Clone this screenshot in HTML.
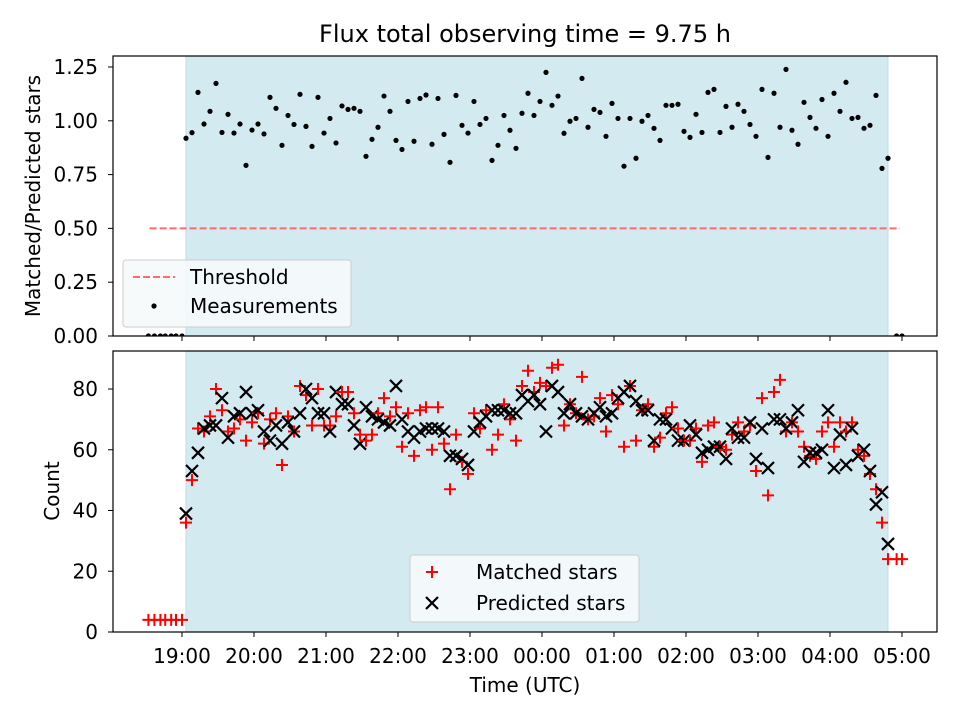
<!DOCTYPE html>
<html><head><meta charset="utf-8">
<style>
body{margin:0;background:#fff;}
svg{display:block;font-family:"DejaVu Sans","Liberation Sans",sans-serif;}
</style></head>
<body>
<svg id="chart" width="960" height="720" viewBox="0 0 960 720">
<rect width="960" height="720" fill="#fff"/>
<text x="525" y="42" text-anchor="middle" font-size="24" fill="#000">Flux total observing time = 9.75 h</text>
<g id="top"></g>
<g id="bot"></g>
<text transform="translate(40,196) rotate(-90)" text-anchor="middle" font-size="20">Matched/Predicted stars</text>
<text transform="translate(59,491) rotate(-90)" text-anchor="middle" font-size="20">Count</text>
<text x="525" y="692" text-anchor="middle" font-size="20">Time (UTC)</text>
</svg>
<script>
// minutes since 19:00
const shadeStart = 3.3, shadeEnd = 588.3;
const ratioValues = [0.919,0.945,1.132,0.985,1.044,1.174,0.946,1.03,0.943,0.985,0.793,0.957,0.985,0.939,1.109,1.058,0.886,1.025,0.983,1.123,0.974,0.881,1.109,0.943,1.011,0.897,1.069,1.053,1.058,1.044,0.835,0.914,0.97,1.115,1.044,0.909,0.867,1.09,0.905,1.104,1.12,0.891,1.104,0.937,0.807,1.118,0.979,0.943,1.09,0.983,1.011,0.816,0.886,1.025,0.956,0.872,1.035,1.128,1.025,1.09,
1.225,1.072,1.115,0.942,0.998,1.011,1.197,0.97,1.053,1.039,0.928,1.081,1.011,0.789,1.011,0.826,0.998,1.025,0.965,0.909,1.072,1.072,1.077,0.951,0.923,1.03,0.946,1.132,1.146,0.946,1.067,0.97,1.077,1.044,0.983,0.928,1.146,0.83,1.128,0.97,1.239,0.956,0.891,1.086,1.016,0.965,1.099,0.928,1.128,1.044,1.179,1.011,1.016,0.965,0.979,1.118,0.779,0.826];
const matchedValues = [36,50,67,66,71,80,73,66,67,70,63,69,72,62,70,72,55,71,66,81,78,68,80,68,68,71,79,79,72,
65,63,65,72,77,71,74,61,72,58,73,74,60,74,62,47,65,56,52,72,67,73,60,65,75,70,63,81,86,
79,82,81,87,88,68,75,72,84,70,71,77,66,78,75,61,81,63,73,75,61,64,72,74,67,63,63,67,56,68,
69,61,60,65,69,66,68,53,77,45,79,83,66,69,66,61,58,57,66,69,61,69,66,69,60,58,52,47,36,24];
const predictedValues = [39,53,59,67,68,68,77,64,71,72,79,72,73,66,63,68,62,69,66,72,80,77,72,72,66,79,75,75,68,
62,74,71,70,69,68,81,70,66,64,66,67,67,67,66,58,58,57,55,66,69,71,73,73,73,72,72,78,76,
78,75,66,81,79,72,75,72,71,70,72,74,71,72,77,79,81,76,73,73,63,70,70,67,63,63,68,65,59,60,
61,61,57,67,64,64,69,57,67,54,70,70,67,69,73,56,59,59,60,73,54,65,55,67,58,60,53,42,46,29];
const preTimes = [-28,-23,-18,-14,-9,-5,0];
const preRatio = [0,0,0,0,0,0,0];
const preMatched = [4,4,4,4,4,4,4];
const postTimes = [595.5,600];
const postRatio = [0,0];
const postMatched = [24,24];
const threshold = 0.5;
const xTickLabels = ["19:00","20:00","21:00","22:00","23:00","00:00","01:00","02:00","03:00","04:00","05:00"];
const ratioTicks = [0,0.25,0.5,0.75,1.0,1.25];
const countTicks = [0,20,40,60,80];

const NS="http://www.w3.org/2000/svg";
const L=113,R=937;
const xs = m => 182 + m*1.2;
const yTop = v => 336 - v*215.2;
const yBot = v => 632 - v*3.0375;
function mk(parent,tag,attrs){const e=document.createElementNS(NS,tag);for(const k in attrs)e.setAttribute(k,attrs[k]);parent.appendChild(e);return e;}
const timeOf = k => 3.33 + 5*k;

function panel(g,T,B,yScale,ticks,fmt,showX,prefix){
  const sh=mk(g,'rect',{x:xs(shadeStart),y:T,width:xs(shadeEnd)-xs(shadeStart),height:B-T,fill:'#d4eaf1',stroke:'#bcdde8','stroke-width':1});
  
  
  ticks.forEach(t=>{
    const y=yScale(t);
    const tl=mk(g,'line',{x1:L-5,x2:L,y1:y,y2:y,stroke:'#000','stroke-width':1});
    
    
    const tx=mk(g,'text',{x:L-15,y:y+7,'text-anchor':'end','font-size':20});
    tx.textContent=fmt(t);
    
    
  });
  xTickLabels.forEach((lab,i)=>{
    const x=xs(i*60);
    const tl=mk(g,'line',{x1:x,x2:x,y1:B,y2:B+5,stroke:'#000','stroke-width':1});
    
    
    if(showX){
      const tx=mk(g,'text',{x:x,y:B+31,'text-anchor':'middle','font-size':20});
      tx.textContent=lab;
      
      
    }
  });
}
function drawFrame(g,T,B,prefix){
  const f=mk(g,'rect',{x:L,y:T,width:R-L,height:B-T,fill:'none',stroke:'#000','stroke-width':1.2});
  
  
}
function clipFor(id,T,B){const c=mk(document.getElementById('chart'),'clipPath',{id:id});mk(c,'rect',{x:L,y:T,width:R-L,height:B-T});}

// TOP
const topG=document.getElementById('top');
clipFor('ct',56,336);
panel(topG,56,336,yTop,ratioTicks,t=>t.toFixed(2),false,'ratio');
const tg=mk(topG,'g',{'clip-path':'url(#ct)'});
const th=mk(tg,'line',{x1:xs(-27),x2:xs(598.3),y1:yTop(threshold),y2:yTop(threshold),stroke:'#ff6b6b','stroke-width':2,'stroke-dasharray':'7,3'});


function dot(t,v){
  const c=mk(tg,'circle',{cx:xs(t),cy:yTop(v),r:2.6,fill:'#000'});
  
  
}
preTimes.forEach((t,i)=>dot(t,preRatio[i]));
ratioValues.forEach((v,k)=>dot(timeOf(k),v));
postTimes.forEach((t,i)=>dot(t,postRatio[i]));
drawFrame(topG,56,336,'ratio');
const lg=mk(topG,'g',{});


mk(lg,'rect',{x:123,y:260,width:228,height:67,rx:3,fill:'#f6f9fb','fill-opacity':0.9,stroke:'#ccc'});
mk(lg,'line',{x1:133,x2:175,y1:277,y2:277,stroke:'#ff6b6b','stroke-width':2,'stroke-dasharray':'7,3'});
const lt1=mk(lg,'text',{x:190,y:284,'font-size':20});lt1.textContent='Threshold';


mk(lg,'circle',{cx:154,cy:306,r:2.6,fill:'#000'});
const lt2=mk(lg,'text',{x:190,y:313,'font-size':20});lt2.textContent='Measurements';



// BOTTOM
const botG=document.getElementById('bot');
clipFor('cb',351,632);
panel(botG,351,632,yBot,countTicks,t=>String(t),true,'count');
const bgG=mk(botG,'g',{'clip-path':'url(#cb)'});
function plus(g,x,y){return mk(g,'path',{d:`M${x-6},${y}H${x+6}M${x},${y-6}V${y+6}`,stroke:'#ff0000','stroke-width':2,fill:'none'});}
function cross(g,x,y){return mk(g,'path',{d:`M${x-6},${y-6}L${x+6},${y+6}M${x-6},${y+6}L${x+6},${y-6}`,stroke:'#000','stroke-width':2.2,fill:'none'});}
function mp(t,v){const p=plus(bgG,xs(t),yBot(v));
  
  }
preTimes.forEach((t,i)=>mp(t,preMatched[i]));
matchedValues.forEach((v,k)=>{
  mp(timeOf(k),v);
  const c=cross(bgG,xs(timeOf(k)),yBot(predictedValues[k]));
  
  
});
postTimes.forEach((t,i)=>mp(t,postMatched[i]));
drawFrame(botG,351,632,'count');
const lb=mk(botG,'g',{});


mk(lb,'rect',{x:410,y:555,width:229,height:67,rx:3,fill:'#f6f9fb','fill-opacity':0.9,stroke:'#ccc'});
plus(lb,432,572);
const bt1=mk(lb,'text',{x:476,y:579,'font-size':20});bt1.textContent='Matched stars';


cross(lb,432,603);
const bt2=mk(lb,'text',{x:476,y:610,'font-size':20});bt2.textContent='Predicted stars';


</script>
</body></html>
